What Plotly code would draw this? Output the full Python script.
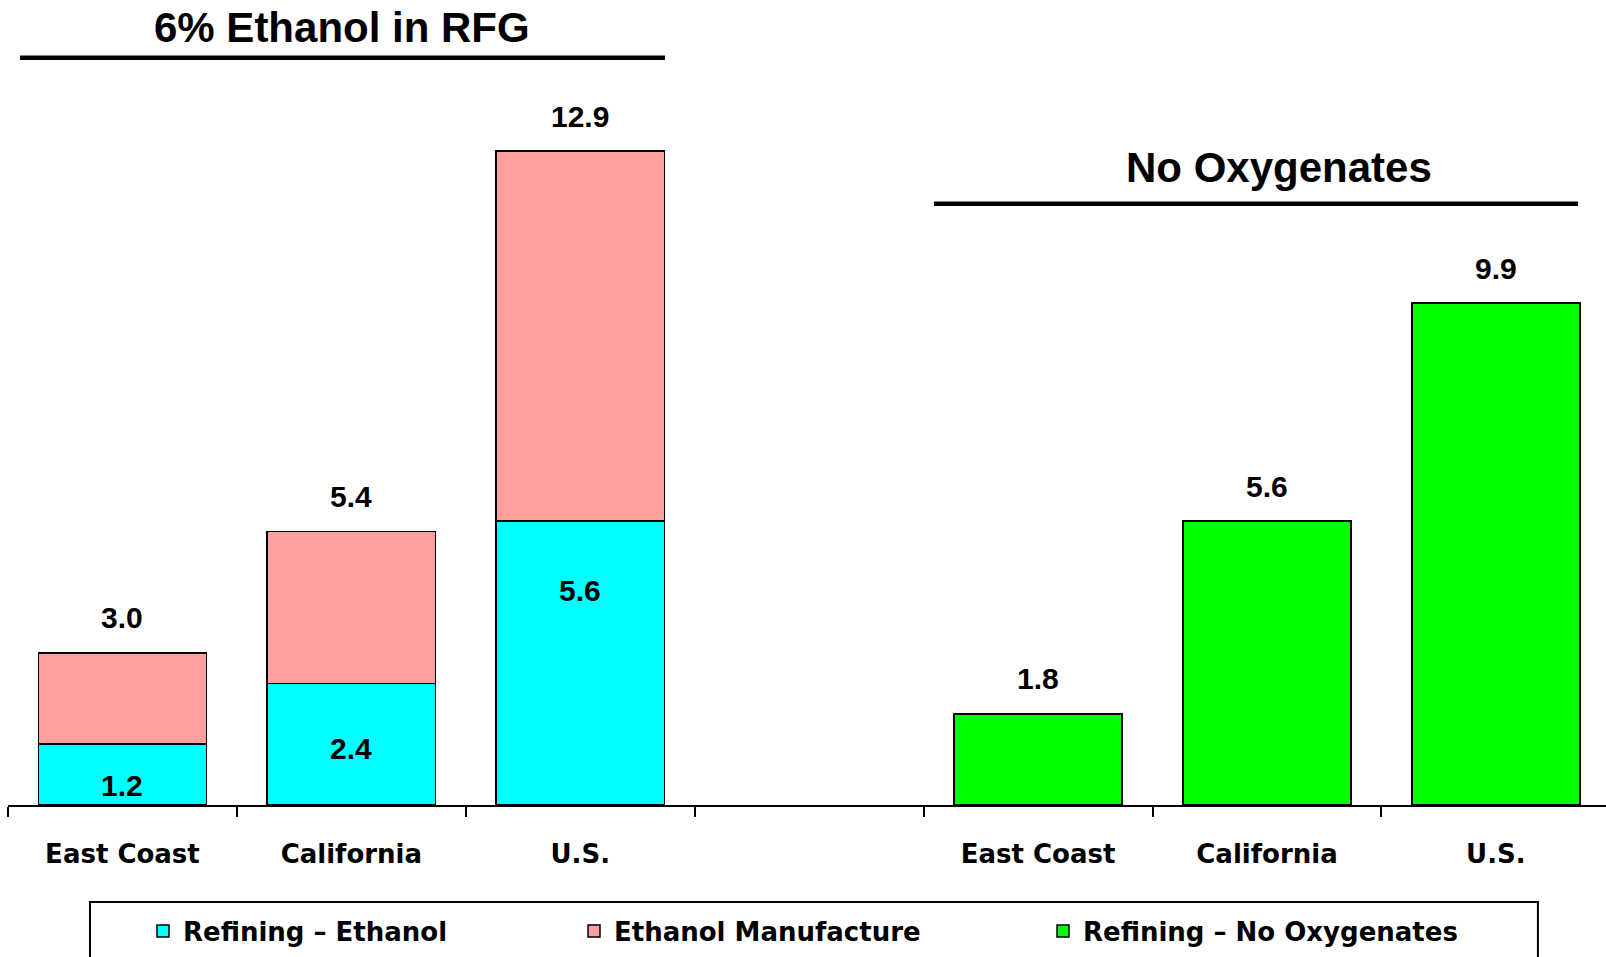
import plotly.graph_objects as go

# ---- data ----
regions = ["East Coast", "California", "U.S."]
refining_ethanol = [1.2, 2.4, 5.6]
ethanol_manufacture = [1.8, 3.0, 7.3]
refining_no_oxygenates = [1.8, 5.6, 9.9]
group_titles = ["6% Ethanol in RFG", "No Oxygenates"]
series_names = ["Refining – Ethanol", "Ethanol Manufacture", "Refining – No Oxygenates"]

# ---- styling ----
C_CYAN = "#00FFFF"
C_PINK = "#FF9F9F"
C_GREEN = "#00FF00"
NUM_FONT = dict(family="Liberation Sans, Arial, sans-serif", size=30, color="black", weight="bold")
TITLE_FONT = dict(family="Liberation Sans, Arial, sans-serif", size=42, color="black", weight="bold")
CAT_FONT = dict(family="DejaVu Sans, sans-serif", size=26, color="black", weight="bold")
BAR_W = 0.735
inside_label_offsets = [41, 65, 69]   # px below top of the cyan segment
total_label_shift = 35                # px above bar top

x1 = list(range(len(regions)))                            # first group positions
x2 = [len(regions) + 1 + i for i in range(len(regions))]  # second group (after gap)
n_slots = len(regions) * 2 + 1

totals = [a + b for a, b in zip(refining_ethanol, ethanol_manufacture)]

fig = go.Figure()
line_style = dict(color="black", width=1.5)
fig.add_trace(go.Bar(x=x1, y=refining_ethanol, name=series_names[0], width=BAR_W,
                     marker=dict(color=C_CYAN, line=line_style), legend="legend"))
fig.add_trace(go.Bar(x=x1, y=ethanol_manufacture, name=series_names[1], width=BAR_W,
                     marker=dict(color=C_PINK, line=line_style), legend="legend2"))
fig.add_trace(go.Bar(x=x2, y=refining_no_oxygenates, name=series_names[2], width=BAR_W,
                     marker=dict(color=C_GREEN, line=line_style), legend="legend3"))

annotations = []
for xi, t in zip(x1, totals):
    annotations.append(dict(x=xi, y=t, text=f"{t:.1f}", showarrow=False, yshift=total_label_shift,
                            font=NUM_FONT, xref="x", yref="y"))
for xi, v, off in zip(x1, refining_ethanol, inside_label_offsets):
    annotations.append(dict(x=xi, y=v, text=f"{v:.1f}", showarrow=False, yshift=-off,
                            font=NUM_FONT, xref="x", yref="y"))
for xi, v in zip(x2, refining_no_oxygenates):
    annotations.append(dict(x=xi, y=v, text=f"{v:.1f}", showarrow=False, yshift=total_label_shift,
                            font=NUM_FONT, xref="x", yref="y"))

# group titles
annotations.append(dict(x=0.957, y=15.34, text=group_titles[0], showarrow=False,
                        font=TITLE_FONT, xref="x", yref="y"))
annotations.append(dict(x=5.053, y=12.58, text=group_titles[1], showarrow=False,
                        font=TITLE_FONT, xref="x", yref="y"))

shapes = [
    dict(type="line", xref="x", yref="y", x0=-0.4476, x1=2.370, y0=14.74, y1=14.74,
         line=dict(color="black", width=4.5)),
    dict(type="line", xref="x", yref="y", x0=3.545, x1=6.359, y0=11.86, y1=11.86,
         line=dict(color="black", width=4.5)),
    # legend frame (bottom runs past the page edge)
    dict(type="rect", xref="paper", yref="paper", x0=0.0513, x1=0.9574, y0=-0.1205, y1=-0.30,
         line=dict(color="black", width=2), fillcolor="rgba(0,0,0,0)"),
]

PW = 1598.0
def lx(text_start_px):
    return (text_start_px - 8 - 42) / PW

legend_common = dict(orientation="h", yanchor="middle", y=-0.1565, xanchor="left",
                     font=CAT_FONT, bgcolor="rgba(0,0,0,0)", borderwidth=0)

fig.update_layout(
    width=1606, height=957,
    margin=dict(l=8, r=0, t=0, b=152),
    paper_bgcolor="white", plot_bgcolor="white",
    barmode="stack",
    showlegend=True,
    legend=dict(x=lx(185), **legend_common),
    legend2=dict(x=lx(616), **legend_common),
    legend3=dict(x=lx(1085), **legend_common),
    xaxis=dict(
        range=[-0.5, n_slots - 0.519],
        tickmode="array",
        tickvals=x1 + [len(regions)] + x2,
        ticktext=regions + [""] + regions,
        ticks="outside", ticklen=25, tickcolor="rgba(0,0,0,0)",
        tickfont=CAT_FONT,
        showline=True, linecolor="black", linewidth=2,
        showgrid=False, zeroline=False,
        minor=dict(tickmode="array", tickvals=[i - 0.5 for i in range(n_slots + 1)],
                   ticks="outside", ticklen=10, tickcolor="black", tickwidth=1.5,
                   showgrid=False),
        fixedrange=True,
    ),
    yaxis=dict(range=[0, 15.88], visible=False, fixedrange=True),
    annotations=annotations,
    shapes=shapes,
)

fig.write_html("out.html", config={"displayModeBar": False},
               post_script="document.body.style.margin='0px';")
